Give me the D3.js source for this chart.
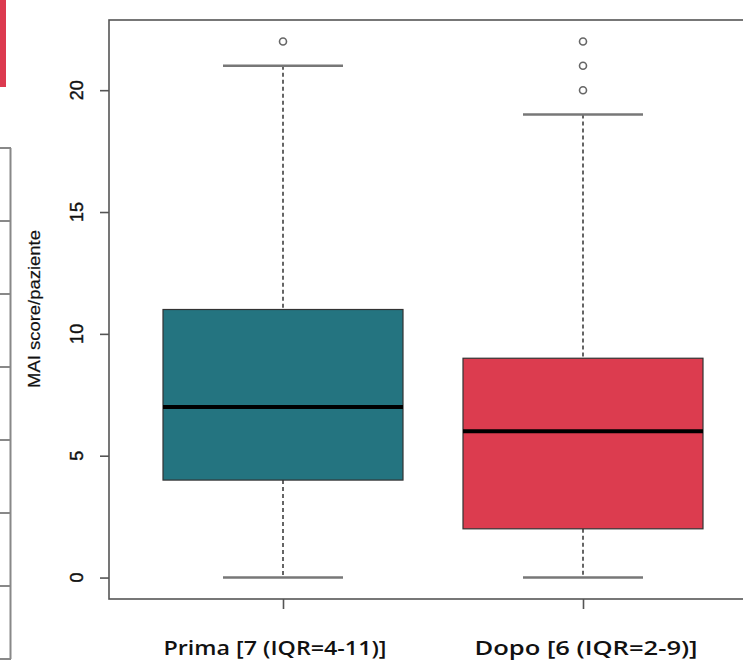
<!DOCTYPE html>
<html lang="it">
<head>
  <meta charset="UTF-8">
  <title>MAI score/paziente</title>
  <style>
    body {
      margin: 0;
      background: #fff;
    }
    svg {
      display: block;
    }
    .tick-label {
      font-family: "Liberation Sans", Arial, sans-serif;
      font-size: 18px;
      fill: #111;
      stroke: #111;
      stroke-width: 0.4px;
    }
    .cat-label {
      font-family: "Open Sans", "Noto Sans", sans-serif;
      font-weight: 600;
      font-size: 19px;
      fill: #111;
    }
  </style>
</head>
<body>
  <script src="https://d3js.org/d3.v7.min.js"></script>
  <script>
    // data
    const categories = ['Prima [7 (IQR=4-11)]', 'Dopo [6 (IQR=2-9)]'];
    const boxColors = ['#247480', '#dc3c4f'];
    const lowerWhisker = [0, 0];
    const q1 = [4, 2];
    const medians = [7, 6];
    const q3 = [11, 9];
    const upperWhisker = [21, 19];
    const outliers = [[22], [20, 21, 22]];
    const yTicks = [0, 5, 10, 15, 20];

    const width = 743;
    const height = 665;

    const svg = d3.select('body')
      .append('svg')
      .attr('width', width)
      .attr('height', height);

    // bits of the surrounding page (red strip, table edge) that were cropped in
    svg.append('rect')
      .attr('x', 0).attr('y', 0)
      .attr('width', 6).attr('height', 87)
      .attr('fill', '#dc3a4f');

    svg.append('line')
      .attr('x1', 10.5).attr('x2', 10.5)
      .attr('y1', 148).attr('y2', 659)
      .attr('stroke', '#888').attr('stroke-width', 2);
    svg.selectAll('.tbl')
      .data(d3.range(0, 8))
      .enter().append('line')
        .attr('class', 'tbl')
        .attr('x1', 0).attr('x2', 11)
        .attr('y1', i => 148 + i * 73)
        .attr('y2', i => 148 + i * 73)
        .attr('stroke', '#888').attr('stroke-width', 2);

    // R style boxplot: xlim 0.5..2.5 plus 4%, ylim 0..22 plus 4%
    const x = d3.scaleLinear().domain([0.42, 2.58]).range([109, 757]);
    const y = d3.scaleLinear().domain([-0.88, 22.88]).range([599, 20]);
    const boxW = 0.4;

    const groups = svg.selectAll('.box')
      .data(categories)
      .enter().append('g')
        .attr('class', 'box');

    // dashed whiskers
    groups.append('line')
      .attr('x1', (d, i) => x(i + 1)).attr('x2', (d, i) => x(i + 1))
      .attr('y1', (d, i) => y(upperWhisker[i])).attr('y2', (d, i) => y(q3[i]))
      .attr('stroke', '#333').attr('stroke-width', 1.5)
      .attr('stroke-dasharray', '4,3');
    groups.append('line')
      .attr('x1', (d, i) => x(i + 1)).attr('x2', (d, i) => x(i + 1))
      .attr('y1', (d, i) => y(q1[i])).attr('y2', (d, i) => y(lowerWhisker[i]))
      .attr('stroke', '#333').attr('stroke-width', 1.5)
      .attr('stroke-dasharray', '4,3');

    // staples
    groups.append('line')
      .attr('x1', (d, i) => x(i + 1 - boxW / 2)).attr('x2', (d, i) => x(i + 1 + boxW / 2))
      .attr('y1', (d, i) => y(upperWhisker[i])).attr('y2', (d, i) => y(upperWhisker[i]))
      .attr('stroke', '#777').attr('stroke-width', 2.5);
    groups.append('line')
      .attr('x1', (d, i) => x(i + 1 - boxW / 2)).attr('x2', (d, i) => x(i + 1 + boxW / 2))
      .attr('y1', (d, i) => y(lowerWhisker[i])).attr('y2', (d, i) => y(lowerWhisker[i]))
      .attr('stroke', '#777').attr('stroke-width', 2.5);

    // boxes
    groups.append('rect')
      .attr('x', (d, i) => x(i + 1 - boxW))
      .attr('width', (d, i) => x(i + 1 + boxW) - x(i + 1 - boxW))
      .attr('y', (d, i) => y(q3[i]))
      .attr('height', (d, i) => y(q1[i]) - y(q3[i]))
      .attr('fill', (d, i) => boxColors[i])
      .attr('stroke', '#333').attr('stroke-width', 1.2);

    // medians
    groups.append('line')
      .attr('x1', (d, i) => x(i + 1 - boxW)).attr('x2', (d, i) => x(i + 1 + boxW))
      .attr('y1', (d, i) => y(medians[i])).attr('y2', (d, i) => y(medians[i]))
      .attr('stroke', '#000').attr('stroke-width', 4);

    // outliers
    groups.selectAll('circle')
      .data((d, i) => outliers[i].map(v => ({ v, i })))
      .enter().append('circle')
        .attr('cx', p => x(p.i + 1))
        .attr('cy', p => y(p.v))
        .attr('r', 3.5)
        .attr('fill', '#fff')
        .attr('stroke', '#666').attr('stroke-width', 1.6);

    // frame
    svg.append('rect')
      .attr('x', x(0.42)).attr('y', y(22.88))
      .attr('width', x(2.58) - x(0.42))
      .attr('height', y(-0.88) - y(22.88))
      .attr('fill', 'none')
      .attr('stroke', '#555').attr('stroke-width', 1.6);

    // y axis
    const yAxis = svg.append('g')
      .attr('transform', `translate(${x(0.42)},0)`)
      .call(d3.axisLeft(y).tickValues(yTicks).tickSize(9).tickFormat(''));
    yAxis.select('.domain').remove();
    yAxis.selectAll('.tick line').attr('stroke', '#555').attr('stroke-width', 1.6);

    svg.selectAll('.ylab')
      .data(yTicks)
      .enter().append('text')
        .attr('class', 'tick-label')
        .attr('transform', d => `translate(83,${y(d)}) rotate(-90)`)
        .attr('text-anchor', 'middle')
        .text(d => d);

    svg.append('text')
      .attr('class', 'tick-label')
      .attr('transform', `translate(40,309) rotate(-90)`)
      .attr('text-anchor', 'middle')
      .style('font-size', '17px')
      .style('stroke-width', '0.2px')
      .attr('textLength', 158)
      .attr('lengthAdjust', 'spacingAndGlyphs')
      .text('MAI score/paziente');

    // x axis
    const xAxis = svg.append('g')
      .attr('transform', `translate(0,${y(-0.88)})`)
      .call(d3.axisBottom(x).tickValues([1, 2]).tickSize(10).tickFormat(''));
    xAxis.select('.domain').remove();
    xAxis.selectAll('.tick line').attr('stroke', '#555').attr('stroke-width', 1.6);

    svg.selectAll('.cat')
      .data(categories)
      .enter().append('text')
        .attr('class', 'cat-label')
        .attr('x', (d, i) => x(i + 1) + (i === 1 ? 3 : -8))
        .attr('y', 655)
        .attr('text-anchor', 'middle')
        .attr('textLength', 223)
        .attr('lengthAdjust', 'spacingAndGlyphs')
        .text(d => d);
  </script>
</body>
</html>
